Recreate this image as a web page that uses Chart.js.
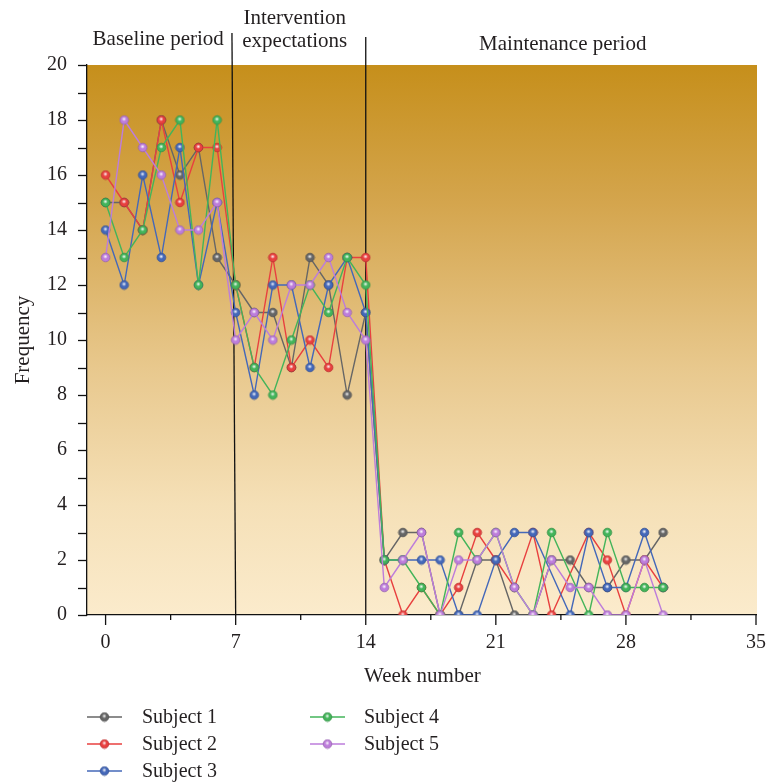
<!DOCTYPE html>
<html><head><meta charset="utf-8">
<script src="https://cdn.jsdelivr.net/npm/chart.js@4.4.1/dist/chart.umd.min.js"></script>
<style>html,body{margin:0;padding:0;background:#fff;overflow:hidden;}</style>
</head><body>
<canvas id="c" width="767" height="784" style="display:block;width:767px;height:784px"></canvas>
<script>
// ---------- data ----------
const weeks = [0,1,2,3,4,5,6,7,8,9,10,11,12,13,14,15,16,17,18,19,20,21,22,23,24,25,26,27,28,29,30];
const subjectNames = ['Subject 1','Subject 2','Subject 3','Subject 4','Subject 5'];
const subject1 = [15,15,14,18,16,17,13,12,11,11,9,13,12,8,11, 2,3,3,0,0,2,2,0,0,2,2,1,1,2,2,3];
const subject2 = [16,15,14,18,15,17,17,12,9,13,9,10,9,13,13, 2,0,1,0,1,3,2,1,3,0,null,3,2,0,2,1];
const subject3 = [14,12,16,13,17,12,15,11,8,12,12,9,12,13,11, 2,2,2,2,0,0,2,3,3,null,0,3,1,1,3,1];
const subject4 = [15,13,14,17,18,12,18,12,9,8,10,12,11,13,12, 2,2,1,0,3,2,3,1,0,3,null,0,3,1,1,1];
const subject5 = [13,18,17,16,14,14,15,10,11,10,12,12,13,11,10, 1,2,3,0,2,2,3,1,0,2,1,1,0,0,2,0];
const subjectColors = ['#666666','#e8403f','#4468b9','#43b45a','#bd7ddb'];
const xTickValues = [0,7,14,21,28,35];
const yTickValues = [0,2,4,6,8,10,12,14,16,18,20];
const phaseBoundaries = [7,14];
const phaseLabels = ['Baseline period', ['Intervention','expectations'], 'Maintenance period'];
const xTitle = 'Week number';
const yTitle = 'Frequency';

// ---------- helpers ----------
const FONT = "'Liberation Serif', 'Times New Roman', serif";
const TXT = '#231f20';
function shade(hex, f){
  const n=parseInt(hex.slice(1),16);let r=n>>16,g=(n>>8)&255,b=n&255;
  r=Math.round(r*f);g=Math.round(g*f);b=Math.round(b*f);
  return 'rgb('+r+','+g+','+b+')';
}
function makeDot(color){
  const c=document.createElement('canvas');c.width=11;c.height=11;
  const g=c.getContext('2d');
  g.beginPath();g.arc(5.5,5.5,4.3,0,Math.PI*2);g.fillStyle=color;g.fill();
  g.lineWidth=0.8;g.strokeStyle=shade(color,0.8);g.stroke();
  const rg=g.createRadialGradient(5.3,4.6,0,5.3,4.6,2.4);
  rg.addColorStop(0,'rgba(255,255,255,0.95)');rg.addColorStop(1,'rgba(255,255,255,0)');
  g.fillStyle=rg;g.beginPath();g.arc(5.3,4.6,2.4,0,Math.PI*2);g.fill();
  return c;
}
const seriesList=[subject1,subject2,subject3,subject4,subject5];
const dots=subjectColors.map(makeDot);
const datasets=seriesList.map((s,i)=>({
  label:subjectNames[i],
  data:weeks.map((w,j)=>({x:w,y:s[j]})),
  borderColor:subjectColors[i],
  backgroundColor:subjectColors[i],
  borderWidth:1.4,
  pointStyle:dots[i],
  pointRadius:4.5,
  pointHoverRadius:4.5,
  spanGaps:true,
  tension:0,
  order:5-i
}));

const decor={
  id:'decor',
  beforeDraw(chart){
    const {ctx,chartArea:a}=chart;
    ctx.save();
    ctx.fillStyle='#fff';ctx.fillRect(0,0,chart.width,chart.height);
    const gr=ctx.createLinearGradient(0,a.top,0,a.bottom);
    gr.addColorStop(0,'#c68f1b');
    gr.addColorStop(0.25,'#d4a54d');
    gr.addColorStop(0.55,'#e8c88d');
    gr.addColorStop(0.8,'#f5e0b7');
    gr.addColorStop(1,'#fbebcc');
    ctx.fillStyle=gr;
    ctx.fillRect(a.left,a.top,a.right-a.left+1,a.bottom-a.top);
    ctx.restore();
  },
  beforeDatasetsDraw(chart){
    const {ctx,chartArea:a,scales:{x}}=chart;
    ctx.save();
    ctx.strokeStyle='#111';ctx.lineWidth=1.3;
    const tops=[33,37];
    phaseBoundaries.forEach((b,i)=>{
      const xb=x.getPixelForValue(b);
      const xt=x.getPixelForValue(i===0?b-0.2:b);
      ctx.beginPath();ctx.moveTo(xt,tops[i]);ctx.lineTo(xb,a.bottom);ctx.stroke();
    });
    ctx.restore();
  },
  afterDraw(chart){
    const {ctx,chartArea:a,scales:{x,y}}=chart;
    ctx.save();
    // tick marks
    ctx.strokeStyle='#111';ctx.lineWidth=1.3;
    for(let v=0;v<=20;v+=1){
      const py=Math.round(y.getPixelForValue(v))+0.5;
      ctx.beginPath();ctx.moveTo(a.left-9,py);ctx.lineTo(a.left,py);ctx.stroke();
    }
    for(let v=0;v<=35;v+=3.5){
      const px=x.getPixelForValue(v);
      const major=xTickValues.includes(v);
      ctx.beginPath();ctx.moveTo(px,a.bottom);ctx.lineTo(px,a.bottom+(major?10:5));ctx.stroke();
    }
    // header labels
    ctx.fillStyle=TXT;ctx.font='21px '+FONT;ctx.textAlign='center';ctx.textBaseline='alphabetic';
    ctx.fillText(phaseLabels[0],x.getPixelForValue(2.83),45);
    ctx.fillText(phaseLabels[1][0],x.getPixelForValue(10.18),24);
    ctx.fillText(phaseLabels[1][1],x.getPixelForValue(10.18),47);
    ctx.fillText(phaseLabels[2],x.getPixelForValue(24.6),50);
    // axis titles
    ctx.fillText(xTitle,x.getPixelForValue(17.05),682);
    ctx.save();ctx.translate(29,340);ctx.rotate(-Math.PI/2);ctx.fillText(yTitle,0,0);ctx.restore();
    // legend
    ctx.font='20px '+FONT;ctx.textAlign='left';ctx.textBaseline='middle';
    const cols=[[87,142],[310,364]];const rows=[717,744,771];
    subjectNames.forEach((n,i)=>{
      const c=i<3?0:1,r=i<3?i:i-3;
      const [lx,tx]=cols[c];const ry=rows[r];
      ctx.strokeStyle=subjectColors[i];ctx.lineWidth=1.4;
      ctx.beginPath();ctx.moveTo(lx,ry);ctx.lineTo(lx+35,ry);ctx.stroke();
      ctx.drawImage(dots[i],lx+17.5-5.5,ry-5.5);
      ctx.fillStyle=TXT;ctx.fillText(n,tx,ry+1);
    });
    ctx.restore();
  }
};

new Chart(document.getElementById('c'),{
  type:'line',
  data:{datasets},
  options:{
    responsive:false,animation:false,devicePixelRatio:1,
    layout:{padding:{left:0,right:11,top:65,bottom:84}},
    plugins:{legend:{display:false},tooltip:{enabled:false}},
    events:[],
    scales:{
      x:{type:'linear',min:-1,max:35,
        afterBuildTicks:s=>{s.ticks=xTickValues.map(v=>({value:v}));},
        afterFit:s=>{s.height=85;s.paddingRight=0;s.paddingLeft=0;},
        grid:{display:false,drawTicks:false},
        border:{display:true,color:'#111',width:1.3},
        ticks:{font:{family:FONT,size:20},color:TXT,padding:16,autoSkip:false,maxRotation:0}
      },
      y:{min:0,max:20,
        afterBuildTicks:s=>{s.ticks=yTickValues.map(v=>({value:v}));},
        afterFit:s=>{s.width=87;s.paddingTop=0;s.paddingBottom=0;},
        grid:{display:false,drawTicks:false},
        border:{display:true,color:'#111',width:1.3},
        ticks:{font:{family:FONT,size:20},color:TXT,padding:20}
      }
    }
  },
  plugins:[decor]
});
</script>
</body></html>
